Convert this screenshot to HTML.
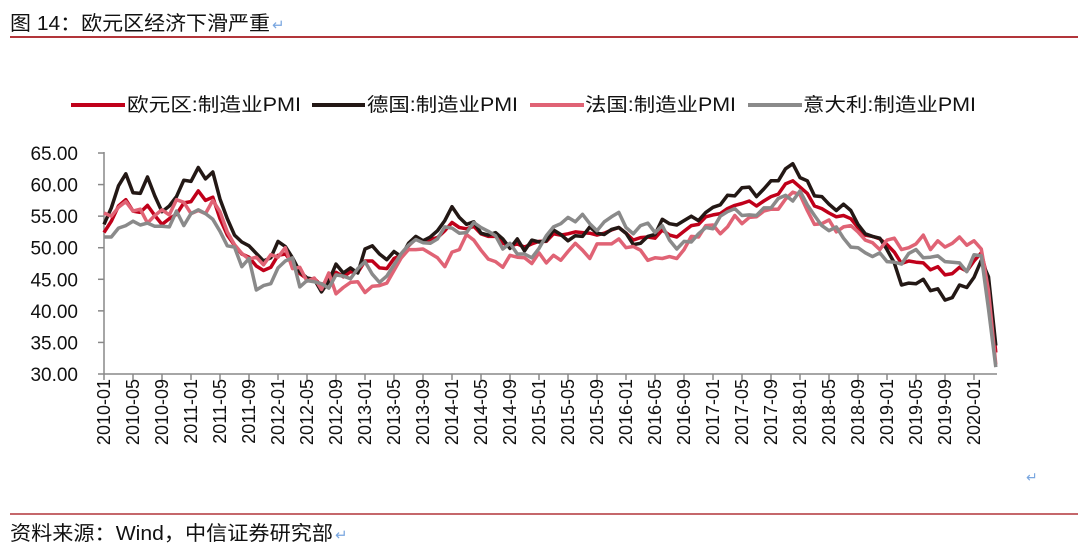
<!DOCTYPE html>
<html><head><meta charset="utf-8"><style>
body{margin:0;background:#fff;width:1080px;height:557px;overflow:hidden;font-family:"Liberation Sans","Noto Sans CJK SC",sans-serif}
svg{display:block}
</style></head><body>
<svg id="s" width="1080" height="557" xmlns="http://www.w3.org/2000/svg" font-family="Liberation Sans, Noto Sans CJK SC, sans-serif">
<text x="10" y="30" font-size="20" fill="#111" textLength="260" lengthAdjust="spacingAndGlyphs">图 14：欧元区经济下滑严重</text>
<text x="272" y="30" fill="#7aa7e0" font-size="15">↵</text>
<line x1="10" y1="37" x2="1078" y2="37" stroke="#b2353a" stroke-width="2"/>
<g font-size="19" fill="#111">
<line x1="71" y1="105" x2="125" y2="105" stroke="#c0001a" stroke-width="4"/>
<text x="127" y="111" textLength="174" lengthAdjust="spacingAndGlyphs">欧元区:制造业PMI</text>
<line x1="312" y1="105" x2="365" y2="105" stroke="#231815" stroke-width="4"/>
<text x="367" y="111" textLength="151" lengthAdjust="spacingAndGlyphs">德国:制造业PMI</text>
<line x1="530" y1="105" x2="584" y2="105" stroke="#e06375" stroke-width="4"/>
<text x="585" y="111" textLength="151" lengthAdjust="spacingAndGlyphs">法国:制造业PMI</text>
<line x1="748" y1="105" x2="802" y2="105" stroke="#8a8a8a" stroke-width="4"/>
<text x="803" y="111" textLength="173" lengthAdjust="spacingAndGlyphs">意大利:制造业PMI</text>
</g>
<g id="ax" stroke="#888" stroke-width="1.5"></g>
<g id="lab" font-size="18" fill="#111"></g>
<g id="ser" fill="none" stroke-width="3.5" stroke-linejoin="round"></g>
<text x="1026" y="482" font-size="14" fill="#7aa7e0">↵</text>
<line x1="10" y1="514" x2="1078" y2="514" stroke="#b2353a" stroke-width="1.5"/>
<text x="10" y="540" font-size="20" fill="#111" textLength="323" lengthAdjust="spacingAndGlyphs">资料来源：Wind，中信证券研究部</text>
<text x="335" y="540" fill="#7aa7e0" font-size="15">↵</text>
</svg>
<script>
var NS="http://www.w3.org/2000/svg";
function el(t,a,p,txt){var e=document.createElementNS(NS,t);for(var k in a)e.setAttribute(k,a[k]);if(txt)e.textContent=txt;document.getElementById(p).appendChild(e);return e;}
function X(i){return 104+i*7.25;}
function Y(v){return 374-(v-30)*6.314;}
el("line",{x1:104,y1:152,x2:104,y2:374},"ax");
el("line",{x1:104,y1:374,x2:997,y2:374},"ax");
for(var v=30;v<=65;v+=5){el("line",{x1:98,y1:Y(v),x2:104,y2:Y(v)},"ax");el("text",{x:78,y:Y(v)+7,"text-anchor":"end","font-size":19},"lab",v.toFixed(2));}
var yrs=["01","05","09"];
for(var i=0;i<=120;i+=4){var yr=2010+Math.floor(i/12),m=yrs[(i%12)/4];
el("line",{x1:X(i),y1:374,x2:X(i),y2:380},"ax");
el("text",{x:0,y:0,"text-anchor":"end",transform:"translate("+(X(i)+6)+",379) rotate(-90)"},"lab",yr+"-"+m);}
var d={
"#c0001a":[52.4,54.2,56.6,57.6,55.8,55.6,56.7,55.1,53.7,54.6,55.3,57.1,57.3,59.0,57.5,58.0,54.6,52.0,50.4,49.0,48.5,47.1,46.4,46.9,48.8,49.0,47.7,45.9,45.1,45.1,44.0,45.1,46.1,45.4,46.2,46.1,47.9,47.9,46.8,46.7,48.3,48.8,50.3,51.4,51.1,51.3,51.6,52.7,54.0,53.2,53.0,53.4,52.2,51.8,51.8,50.7,50.3,50.6,50.1,50.6,51.0,51.0,52.2,52.0,52.2,52.5,52.4,52.3,52.0,52.3,52.8,53.2,52.3,51.2,51.6,51.7,51.5,52.8,52.0,51.7,52.6,53.5,53.7,54.9,55.2,55.4,56.2,56.7,57.0,57.4,56.6,57.4,58.1,58.5,60.1,60.6,59.6,58.6,56.6,56.2,55.5,54.9,55.1,54.6,53.2,52.0,51.8,51.4,50.5,49.3,47.5,47.9,47.7,47.6,46.5,47.0,45.7,45.9,46.9,46.3,47.9,49.2,44.5,33.4],
"#231815":[53.7,56.3,59.8,61.7,58.7,58.6,61.2,58.2,55.7,56.6,58.1,60.7,60.5,62.7,60.9,62.0,57.7,54.6,52.0,50.9,50.3,49.1,47.9,48.4,51.0,50.2,48.4,46.2,45.2,45.0,43.0,44.7,47.4,46.0,46.8,46.0,49.8,50.3,49.0,48.1,49.4,48.6,50.7,51.8,51.1,51.7,52.7,54.3,56.5,54.8,53.7,54.1,52.3,52.0,52.4,51.4,49.9,51.4,49.5,51.2,50.9,51.1,52.8,52.1,51.1,51.9,51.8,53.3,52.3,52.1,52.9,53.2,52.3,50.5,50.7,51.8,52.1,54.5,53.8,53.6,54.3,55.0,54.3,55.6,56.4,56.8,58.3,58.2,59.5,59.6,58.1,59.3,60.6,60.6,62.5,63.3,61.1,60.6,58.2,58.1,56.9,55.9,56.9,55.9,53.7,52.2,51.8,51.5,49.7,47.6,44.1,44.4,44.3,45.0,43.2,43.5,41.7,42.1,44.1,43.7,45.3,48.0,45.4,34.5],
"#e06375":[55.5,55.0,56.4,57.3,55.8,56.1,53.9,55.1,56.0,55.2,57.6,57.2,55.4,55.9,55.4,57.5,55.7,52.5,50.5,49.1,48.2,48.5,47.3,48.9,48.5,50.0,46.7,46.9,44.7,45.2,43.4,46.0,42.7,43.7,44.5,44.6,42.9,43.9,44.0,44.4,46.4,48.4,49.7,49.7,49.8,49.1,48.4,47.0,49.3,49.7,52.1,51.2,49.6,48.2,47.8,46.9,48.8,48.5,48.4,47.5,49.2,47.6,48.8,48.0,49.4,50.7,49.6,48.3,50.6,50.6,50.6,51.4,50.0,50.2,49.6,48.0,48.4,48.3,48.6,48.3,49.7,51.8,51.7,53.5,53.6,52.2,53.3,55.1,53.8,54.8,54.9,55.8,56.1,56.1,57.7,58.8,58.4,55.9,53.7,53.8,54.4,52.5,53.3,53.5,52.5,51.2,50.8,49.7,51.2,51.5,49.7,50.0,50.6,52.0,49.7,51.1,50.1,50.7,51.7,50.4,51.1,49.8,43.2,31.5],
"#8a8a8a":[51.7,51.7,53.1,53.5,54.2,53.6,53.9,53.4,53.4,53.3,55.8,53.5,55.4,56.0,55.4,54.5,52.6,50.3,50.1,47.0,48.3,43.3,44.0,44.3,46.8,47.9,48.4,43.8,44.8,44.6,44.3,43.6,45.7,45.5,45.1,46.7,47.8,45.8,44.5,45.5,47.3,49.1,50.4,51.3,50.8,50.7,51.4,53.3,53.1,52.3,52.4,54.0,53.2,52.6,51.9,49.8,50.7,49.0,49.0,48.4,49.9,51.9,53.3,53.8,54.8,54.1,55.3,53.8,52.7,54.1,54.9,55.6,53.2,52.2,53.5,53.9,52.4,53.5,51.2,49.8,51.0,50.9,52.2,53.2,53.0,55.0,55.7,56.2,55.1,55.2,55.1,56.3,56.3,57.8,58.3,57.4,59.0,56.8,55.1,53.5,52.7,53.3,51.5,50.1,50.0,49.2,48.6,49.2,47.8,47.7,47.4,49.1,49.7,48.4,48.5,48.7,47.8,47.7,47.6,46.2,48.9,48.7,40.3,31.1]};
for(var c in d){var p="";d[c].forEach(function(v,i){p+=(i?"L":"M")+X(i).toFixed(1)+","+Y(v).toFixed(1);});el("path",{d:p,stroke:c},"ser");}
</script>
</body></html>
